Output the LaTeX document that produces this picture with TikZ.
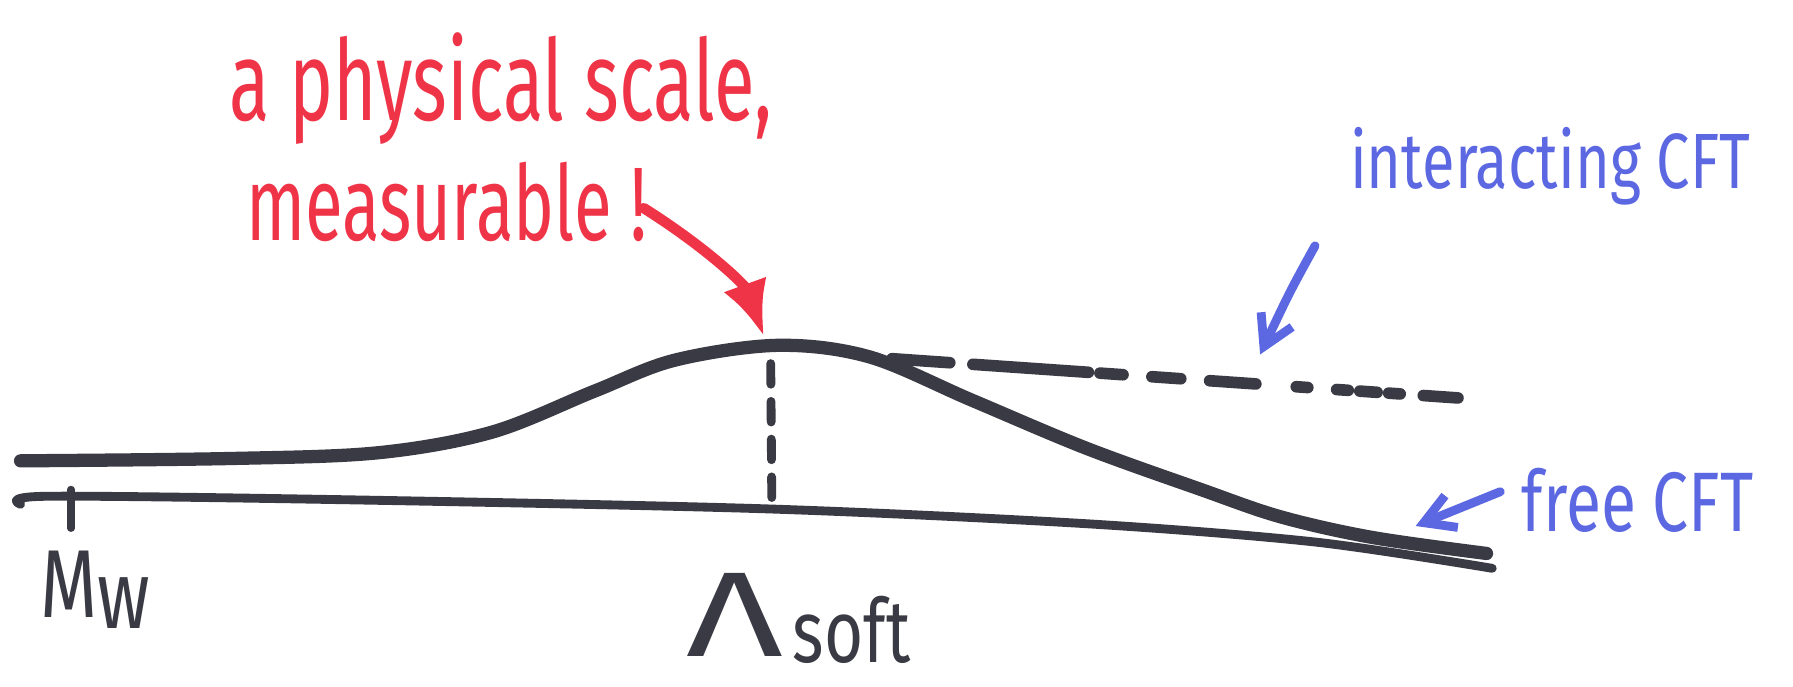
\documentclass[tikz,border=0pt]{standalone}
\usepackage{fontspec}
\setmainfont{Fira Sans}[FakeStretch=0.76]
\newfontfamily\tallhand{Fira Sans}[FakeStretch=0.66]
\newfontfamily\widehand{Fira Sans}[FakeStretch=1.4]
\usetikzlibrary{positioning,arrows.meta,calc}
\definecolor{skInk}{RGB}{58,58,68}
\definecolor{skRed}{RGB}{240,52,72}
\definecolor{skBlue}{RGB}{92,104,226}

\begin{document}
\begin{tikzpicture}[x=0.01cm, y=-0.01cm, >=Latex,
  ink/.style={draw=skInk, line cap=round, line join=round},
  note/.style={inner sep=0pt, anchor=base west},
  redtxt/.style={note, text=skRed},
  bluetxt/.style={note, text=skBlue},
  marktxt/.style={note, text=skInk}]
  \useasboundingbox (0,0) rectangle (1568,600);

  % the two curves
  \draw[ink, line width=3.3pt] plot[smooth, tension=0.55] coordinates {(18,403) (200,401) (330,396) (430,378) (520,342) (590,315) (680,302) (760,312) (850,350) (950,392) (1050,428) (1120,452) (1200,470) (1300,484)};
  \draw[ink, line width=2.2pt] plot[smooth, tension=0.5] coordinates {(18,441) (40,434) (300,437) (670,445) (950,458) (1150,474) (1305,497)};

  \coordinate (tickT) at (62,428);
  \coordinate (tickB) at (62,462);
  \draw[ink, line width=1.8pt] (tickT) -- (tickB);

  \coordinate (peak) at (674,318);
  \coordinate (foot) at (675,443);
  \draw[ink, line width=2.2pt, dash pattern=on 1.8mm off 1.5mm] (peak) -- (foot);

  \coordinate (dashA) at (770,313);
  \coordinate (dashB) at (1275,348);
  \foreach \a/\b in {0.02/0.12, 0.16/0.36, 0.38/0.42, 0.47/0.52, 0.57/0.65, 0.72/0.74, 0.79/0.81, 0.83/0.86, 0.88/0.90, 0.94/1}
    \draw[ink, line width=2.9pt] ($(dashA)!\a!(dashB)$) -- ($(dashA)!\b!(dashB)$);

  % labels
  \node[redtxt, font=\tallhand\fontsize{28}{28}\selectfont] (scaleA) at (200,105) {a physical scale,};
  \node[redtxt, font=\tallhand\fontsize{26}{26}\selectfont] (scaleB) at (215,210) {measurable !};
  \node[bluetxt, font=\fontsize{19.5}{20}\selectfont] (inter) at (1180,165) {interacting CFT};
  \node[bluetxt, font=\fontsize{21}{21}\selectfont] (free) at (1330,465) {free CFT};
  \node[marktxt, font=\fontsize{24}{24}\selectfont] (mw) at (35,540) {M\raisebox{-1mm}{w}};
  \node[marktxt, font=\widehand\fontsize{30}{30}\selectfont] (lam) at (600,574) {Λ\hspace{0.8mm}\raisebox{-0.5mm}{\normalfont\fontsize{22}{22}\selectfont soft}};

  % arrows
  \coordinate (redS) at (563,182);
  \coordinate (redE) at (668,294);
  \draw[skRed, line width=2.6pt, line cap=round, -{Latex[length=4.8mm,width=4mm]}] (redS) .. controls (620,218) and (652,250) .. (redE);
  \coordinate (intS) at (1150,215);
  \coordinate (intE) at (1102,310);
  \draw[skBlue, line width=2.2pt, line cap=round, -{Straight Barb[length=2.6mm,width=3mm]}] (intS) .. controls (1128,255) .. (intE);
  \coordinate (freS) at (1312,430);
  \coordinate (freE) at (1238,460);
  \draw[skBlue, line width=2.2pt, line cap=round, -{Straight Barb[length=2.6mm,width=3mm]}] (freS) -- (freE);
\end{tikzpicture}
\end{document}
